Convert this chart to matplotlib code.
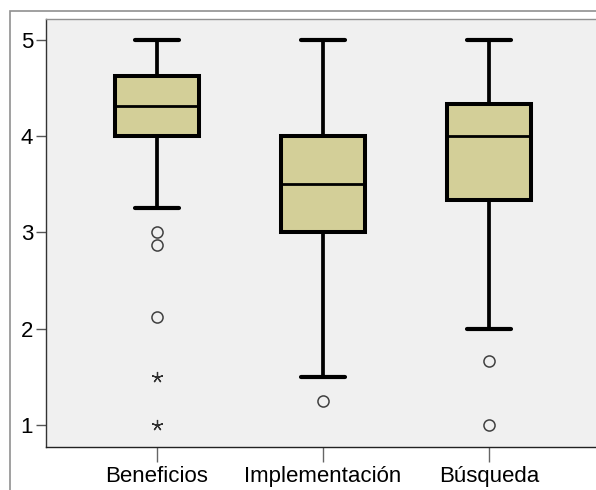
import matplotlib
matplotlib.use("Agg")
import matplotlib.pyplot as plt
from matplotlib.patches import Rectangle

plt.rcParams['font.family'] = ['Liberation Sans', 'DejaVu Sans']

categories = ["Beneficios", "Implementación", "Búsqueda"]
whisker_low = [3.25, 1.5, 2.0]
q1 = [4.0, 3.0, 3.333]
median = [4.3125, 3.5, 4.0]
q3 = [4.625, 4.0, 4.333]
whisker_high = [5.0, 5.0, 5.0]
outliers_circle = [[3.0, 2.875, 2.125], [1.25], [1.667, 1.0]]
outliers_extreme = [[1.5, 1.0], [], []]
y_ticks = [1, 2, 3, 4, 5]

fig = plt.figure(figsize=(5.96, 4.90), dpi=100)
fig.patch.set_facecolor("white")
fig.patches.append(Rectangle((10/596, -0.2), 1.3, 1 - 11/490 + 0.2,
                             transform=fig.transFigure, fill=False,
                             edgecolor="#909090", linewidth=1.2, zorder=0))

ax = fig.add_axes([46/596, 1 - 447/490, 560/596, 428/490])
ax.set_facecolor("#F0F0F0")

stats = []
for i, name in enumerate(categories):
    stats.append(dict(label=name, whislo=whisker_low[i], q1=q1[i], med=median[i],
                      q3=q3[i], whishi=whisker_high[i], fliers=outliers_circle[i]))

positions = list(range(1, len(categories) + 1))
ax.bxp(stats, positions=positions, widths=0.51, capwidths=0.26, patch_artist=True,
       showfliers=True,
       boxprops=dict(facecolor="#D3CF98", edgecolor="black", linewidth=2.9),
       medianprops=dict(color="black", linewidth=2.0),
       whiskerprops=dict(color="black", linewidth=2.7),
       capprops=dict(color="black", linewidth=3.0, solid_capstyle="round"),
       flierprops=dict(marker="o", markerfacecolor="none", markeredgecolor="#404040",
                       markersize=8, markeredgewidth=1.1, linestyle="none"))

for i, vals in enumerate(outliers_extreme):
    if vals:
        ax.plot([positions[i]] * len(vals), vals, linestyle="none",
                marker=(5, 2, 0), markersize=8, color="#303030", markeredgewidth=0.9)

ax.set_xlim(0.331, 3.705)
ax.set_ylim(0.771, 5.218)
ax.set_yticks(y_ticks)
ax.set_yticklabels([str(t) for t in y_ticks])
ax.set_xticks(positions)
ax.set_xticklabels(categories)

ax.tick_params(axis="y", direction="out", length=7.2, width=1.0, color="#555555",
               labelsize=16, pad=2)
ax.tick_params(axis="x", direction="out", length=10.8, width=1.0, color="#666666",
               labelsize=16, pad=3)

ax.spines["left"].set_color("#333333")
ax.spines["bottom"].set_color("#222222")
ax.spines["top"].set_color("#909090")
ax.spines["right"].set_visible(False)
for s in ax.spines.values():
    s.set_linewidth(1.0)

fig.savefig("out.png", dpi=100)
